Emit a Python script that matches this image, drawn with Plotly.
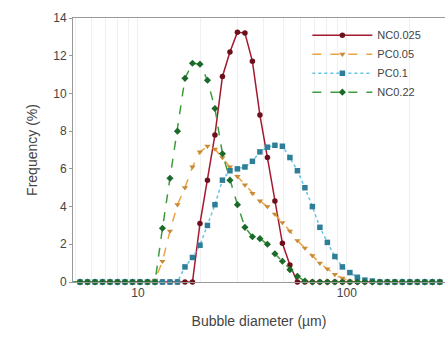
import plotly.graph_objects as go

# Bubble diameter bins (µm), log-spaced
diameter = [4.861, 5.280, 5.735, 6.229, 6.765, 7.348, 7.981, 8.669, 9.415, 10.226,
            11.107, 12.064, 13.103, 14.232, 15.458, 16.789, 18.236, 19.807, 21.513, 23.366,
            25.379, 27.565, 29.940, 32.519, 35.320, 38.363, 41.668, 45.257, 49.155, 53.390,
            57.989, 62.984, 68.410, 74.303, 80.703, 87.655, 95.206, 103.41, 112.32, 121.99,
            132.50, 143.92, 156.32, 169.78, 184.41, 200.29, 217.55, 236.29, 256.64, 278.75]

# Frequency (%) per series (same bins)
nc0025 = [0]*16 + [0, 3.1, 5.4, 7.8, 10.9, 12.2, 13.25, 13.2, 11.7, 8.85,
                   6.6, 4.3, 2.05, 0.9, 0] + [0]*19
pc005 = [0]*11 + [0.1, 1.1, 2.7, 4.1, 5.0, 6.1, 6.9, 7.2, 7.05, 6.6,
                  6.1, 5.6, 5.15, 4.7, 4.3, 4.0, 3.6, 3.15, 2.7, 2.2,
                  1.8, 1.4, 1.0, 0.7, 0.4, 0.2, 0.05] + [0]*12
pc01 = [0]*15 + [0.8, 1.3, 1.95, 3.0, 4.1, 5.4, 5.9, 6.0, 6.1, 6.4,
                 6.9, 7.15, 7.25, 7.2, 6.6, 5.9, 5.0, 4.0, 2.9, 2.1,
                 1.35, 0.8, 0.5, 0.25, 0.1, 0.05] + [0]*9
nc022 = [0]*12 + [2.85, 5.5, 8.0, 10.8, 11.6, 11.55, 10.7, 9.2, 6.8, 5.4,
                  4.1, 2.9, 2.4, 2.3, 2.0, 1.5, 1.1, 0.65, 0.3, 0.05] + [0]*18

names = ["NC0.025", "PC0.05", "PC0.1", "NC0.22"]
series = [nc0025, pc005, pc01, nc022]
line_colors = ["#a3192e", "#eaa444", "#62c4e6", "#3c9c3c"]
marker_colors = ["#6e0f1c", "#c98a34", "#2e7e98", "#1c6a2a"]
dashes = ["solid", "dash", "dot", "dash"]
symbols = ["circle", "triangle-down", "square", "diamond"]

fig = go.Figure()
for n, ys, lc, mc, d, s in zip(names, series, line_colors, marker_colors, dashes, symbols):
    fig.add_trace(go.Scatter(
        x=diameter, y=ys, name=n, mode="lines+markers",
        line=dict(color=lc, width=1.5, dash=d),
        marker=dict(color=mc, symbol=s, size=5.5),
        cliponaxis=False,
    ))

minor_vals = [5, 6, 7, 8, 9, 20, 30, 40, 50, 60, 70, 80, 90, 200, 300]
fig.update_layout(
    width=445, height=352,
    margin=dict(l=73, r=0, t=18, b=70),
    paper_bgcolor="white", plot_bgcolor="white",
    font=dict(family="Liberation Sans, Arial, sans-serif", color="#444", size=12),
    showlegend=True,
    legend=dict(x=0.63, y=0.99, xanchor="left", yanchor="top",
                bgcolor="rgba(0,0,0,0)", font=dict(size=11, color="#444"),
                tracegroupgap=0, itemwidth=60),
    xaxis=dict(
        type="log", range=[0.689, 2.47],
        tickvals=[10, 100], ticktext=["10", "100"],
        showgrid=True, gridcolor="#f0f0f0",
        minor=dict(tickvals=minor_vals, showgrid=True, gridcolor="#f0f0f0"),
        showline=True, linecolor="#999", mirror=True, ticks="",
        title=dict(text="Bubble diameter (\u00b5m)", font=dict(size=14, color="#444"), standoff=16),
        tickfont=dict(size=12, color="#444"), zeroline=False,
    ),
    yaxis=dict(
        range=[0, 14], tickvals=[0, 2, 4, 6, 8, 10, 12, 14],
        showgrid=False, showline=True, linecolor="#999", mirror=True,
        ticks="outside", ticklen=3, tickcolor="#999",
        title=dict(text="Frequency (%)", font=dict(size=14, color="#444"), standoff=12),
        tickfont=dict(size=12, color="#444"), zeroline=False,
    ),
)
fig.write_html("out.html")
